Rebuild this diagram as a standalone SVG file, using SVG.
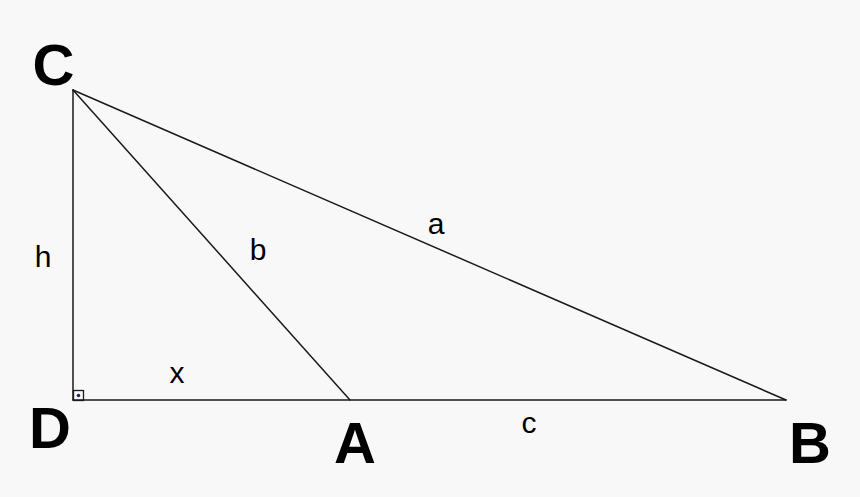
<svg xmlns="http://www.w3.org/2000/svg" width="860" height="497" viewBox="0 0 860 497">
<style>
.edge{stroke:#1a1a1a;stroke-width:1.5;fill:none;stroke-linecap:round}
.big{font-family:"Liberation Sans",Arial,sans-serif;font-weight:bold;font-size:58px;fill:#000;text-anchor:middle}
.lbl{font-family:"Liberation Sans",Arial,sans-serif;font-size:30px;fill:#000;text-anchor:middle}
</style>
<rect x="0" y="0" width="860" height="497" fill="#f8f8f8"/>
<g id="connectors">
<line class="edge" x1="73" y1="90" x2="73" y2="400"/>
<line class="edge" x1="73" y1="400" x2="786" y2="400"/>
<line class="edge" x1="73" y1="90" x2="350" y2="400"/>
<line class="edge" x1="73" y1="90" x2="786" y2="400"/>
<text class="lbl" x="43" y="267">h</text>
<text class="lbl" x="258" y="259.5">b</text>
<text class="lbl" x="436" y="233.5">a</text>
<text class="lbl" x="177" y="382.5">x</text>
<text class="lbl" x="529" y="432.5">c</text>
</g>
<g id="node-C"><text class="big" x="53.5" y="85">C</text></g>
<g id="node-D">
<rect x="73.5" y="390.5" width="10" height="10" fill="none" stroke="#1a1a1a" stroke-width="1.3"/>
<circle cx="78.5" cy="395.5" r="1.8" fill="#1a2a5a"/>
<text class="big" x="50" y="448">D</text>
</g>
<g id="node-A"><text class="big" x="355" y="463">A</text></g>
<g id="node-B"><text class="big" x="810" y="463">B</text></g>
</svg>
